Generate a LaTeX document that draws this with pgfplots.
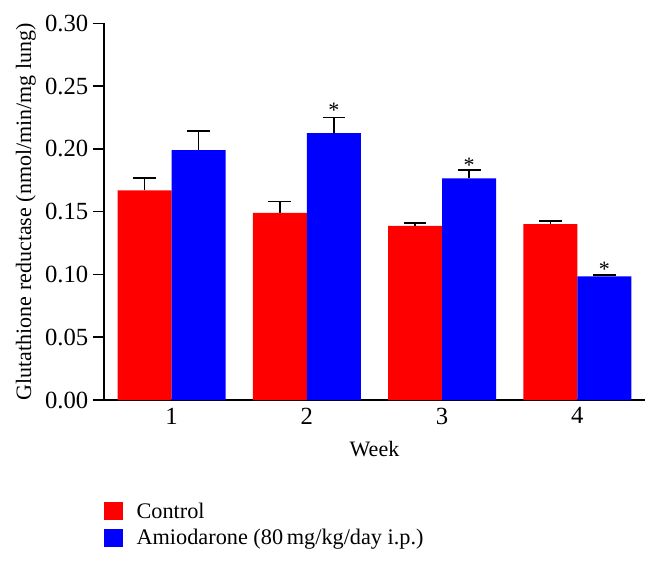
\documentclass[border=0pt]{standalone}
\usepackage{fontspec}
\setmainfont{Liberation Serif}
\usepackage{pgfplots}
\pgfplotsset{compat=1.18}
\begin{document}
\begin{tikzpicture}
\begin{axis}[
  at={(0,0)}, anchor=south west,
  scale only axis, width=405.75pt, height=282.5pt,
  xmin=0.5, xmax=4.5, ymin=0, ymax=0.30,
  axis lines=left, axis line style={line width=1.1pt, -},
  ybar=0pt, bar width=0.4,
  xtick={1,2,3,4}, xtick style={draw=none},
  ytick={0,0.05,0.10,0.15,0.20,0.25,0.30},
  ytick style={line width=1.1pt, black},
  tick align=outside, major tick length=8.25pt,
  /pgf/number format/assume math mode=true,
  yticklabel style={/pgf/number format/.cd, fixed, fixed zerofill, precision=2},
  tick label style={font=\fontsize{18.5}{21}\selectfont},
  xticklabel style={yshift=6pt},
  label style={font=\fontsize{16.5}{19}\selectfont},
  xlabel={Week},
  ylabel={Glutathione reductase (nmol/min/mg lung)},
  xlabel style={at={(axis description cs:0.5,-0.13)}, anchor=center},
  ylabel style={at={(axis description cs:-0.1442,0.5)}, anchor=center},
  legend style={draw=none, fill=none, at={(axis description cs:0,-0.265)}, anchor=north west,
    inner sep=0pt, font=\fontsize{16.7}{20}\selectfont, row sep=3pt, legend cell align=left,
    /tikz/every odd column/.append style={column sep=8pt}},
  error bars/y dir=plus, error bars/y explicit,
  error bars/error mark=|,
  error bars/error bar style={black, line width=1.2pt},
  error bars/error mark options={black, mark size=8.5pt, line width=1.3pt},
]
\addplot[fill=red, draw=none,
  legend image code/.code={\fill[red] (0pt,-6.75pt) rectangle (14.25pt,6.75pt);}]
  table[x=x, y=y, y error=e] {
x y e
1 0.167 0.010
2 0.149 0.009
3 0.1386 0.0024
4 0.140 0.0025
};
\addlegendentry{Control}
\addplot[fill=blue, draw=none,
  legend image code/.code={\fill[blue] (0pt,-6.75pt) rectangle (14.25pt,6.75pt);}]
  table[x=x, y=y, y error=e] {
x y e
1 0.199 0.0155
2 0.2126 0.0124
3 0.1766 0.0064
4 0.0985 0.0008
};
\addlegendentry{Amiodarone (80\,mg/kg/day i.p.)}
\node[font=\fontsize{16.5}{18}\selectfont, inner sep=0pt] at (axis cs:2.2,0.231) {*};
\node[font=\fontsize{16.5}{18}\selectfont, inner sep=0pt] at (axis cs:3.2,0.187) {*};
\node[font=\fontsize{16.5}{18}\selectfont, inner sep=0pt] at (axis cs:4.2,0.104) {*};
\end{axis}
\pgfresetboundingbox
\path[use as bounding box] (-78pt,-121.5pt) rectangle (416.25pt,300pt);
\end{tikzpicture}
\end{document}
